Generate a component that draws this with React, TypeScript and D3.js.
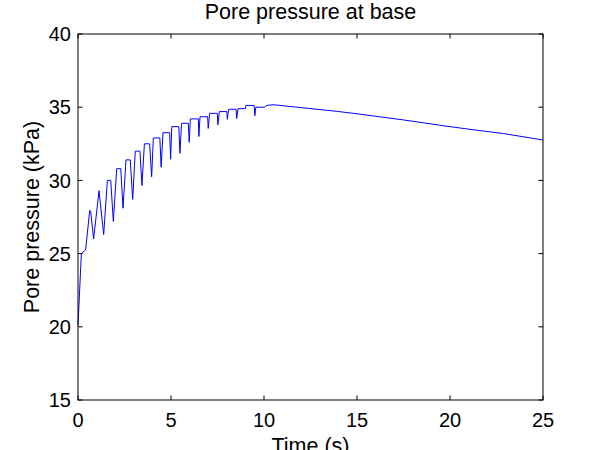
import React from "react";
import * as d3 from "d3";

const timeS: number[] = [
  0, 0.18, 0.41, 0.63, 0.68, 0.84, 1.13, 1.38, 1.58, 1.76, 1.9, 2.08, 2.3, 2.42, 2.58, 2.81, 2.94,
  3.08, 3.33, 3.44, 3.57, 3.85, 3.96, 4.05, 4.4, 4.47, 4.57, 4.93, 4.98, 5.04, 5.42, 5.48, 5.57,
  5.93, 5.98, 6.04, 6.47, 6.5, 6.56, 6.97, 7.0, 7.08, 7.49, 7.52, 7.6, 8.0, 8.03, 8.1, 8.5, 8.53,
  8.6, 9.0, 9.03, 9.47, 9.51, 9.56, 10.03, 10.15, 10.5, 12, 13.9, 15, 17.5, 20, 21.07, 22.87, 25,
];
const porePressure: number[] = [
  20.1, 25.0, 25.25, 27.95, 27.9, 26.0, 29.3, 26.3, 30.0, 30.0, 27.2, 30.8, 30.8, 28.1, 31.4, 31.4, 28.7,
  32.0, 32.0, 29.65, 32.5, 32.5, 30.25, 32.9, 32.9, 30.9, 33.26, 33.26, 31.45, 33.67, 33.67, 31.85, 33.9,
  33.9, 32.6, 34.2, 34.2, 33.0, 34.35, 34.35, 33.55, 34.58, 34.58, 33.8, 34.7, 34.7, 34.17, 34.86, 34.86, 34.23,
  34.9, 34.9, 35.12, 35.12, 34.42, 35.0, 35.0, 35.12, 35.17, 34.97, 34.72, 34.55, 34.13, 33.67, 33.49, 33.2, 32.76,
];
const xTicks: number[] = [0, 5, 10, 15, 20, 25];
const yTicks: number[] = [15, 20, 25, 30, 35, 40];

export default function App() {
  const W = 600, H = 450;
  const L = 78, R = 543, T = 34, B = 400;
  const x = d3.scaleLinear().domain([0, 25]).range([L, R]);
  const y = d3.scaleLinear().domain([15, 40]).range([B, T]);
  const pts: [number, number][] = timeS.map((t, i) => [t, porePressure[i]]);
  const line = d3.line<[number, number]>().x((d) => x(d[0])).y((d) => y(d[1]));
  const font = "Liberation Sans, Arial, Helvetica, sans-serif";
  const tl = 4.5;
  return (
    <svg width={W} height={H} style={{ position: "absolute", left: 0, top: 0, background: "#fff" }}
      fontFamily={font}>
      <rect x={0} y={0} width={W} height={H} fill="#fff" />
      <path d={line(pts) || ""} fill="none" stroke="#0000ff" strokeWidth={1} />
      <rect x={L} y={T} width={R - L} height={B - T} fill="none" stroke="#000" strokeWidth={1} />
      {xTicks.map((t) => (
        <g key={"x" + t}>
          <line x1={x(t)} x2={x(t)} y1={B} y2={B - tl} stroke="#000" />
          <line x1={x(t)} x2={x(t)} y1={T} y2={T + tl} stroke="#000" />
          <text x={x(t)} y={426.5} fontSize={20} textAnchor="middle" fill="#000">{t}</text>
        </g>
      ))}
      {yTicks.map((v) => (
        <g key={"y" + v}>
          <line x1={L} x2={L + tl} y1={y(v)} y2={y(v)} stroke="#000" />
          <line x1={R} x2={R - tl} y1={y(v)} y2={y(v)} stroke="#000" />
          <text x={71} y={y(v)} dy="0.36em" fontSize={20} textAnchor="end" fill="#000">{v}</text>
        </g>
      ))}
      <text x={(L + R) / 2} y={18.5} fontSize={21.5} textAnchor="middle" fill="#000">Pore pressure at base</text>
      <text x={(L + R) / 2} y={453} fontSize={21.5} textAnchor="middle" fill="#000">Time (s)</text>
      <text transform={`translate(39,${(T + B) / 2}) rotate(-90)`} fontSize={21.5} textAnchor="middle" fill="#000">
        Pore pressure (kPa)
      </text>
    </svg>
  );
}
